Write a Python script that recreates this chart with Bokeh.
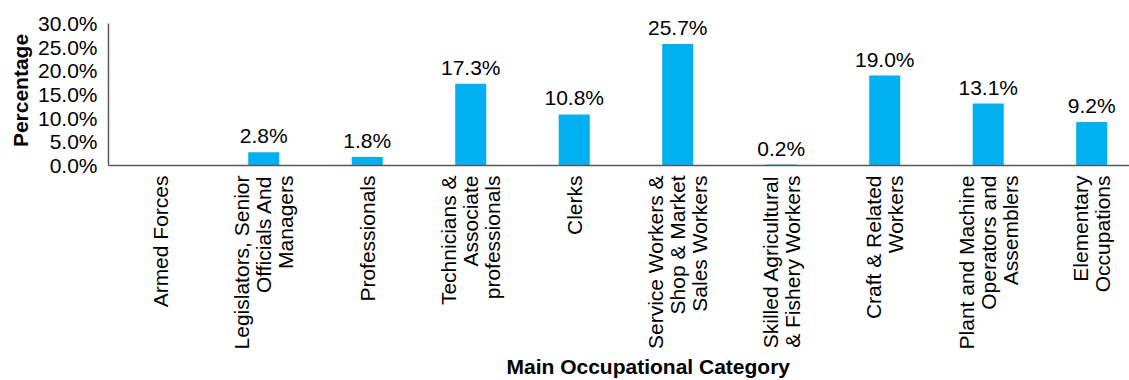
from bokeh.plotting import figure
from bokeh.models import ColumnDataSource, FixedTicker, PrintfTickFormatter, Range1d, LabelSet, Title
from bokeh.core.properties import value
from bokeh.embed import file_html
from bokeh.resources import INLINE
import math

categories = ["Armed Forces", "Legislators, Senior\nOfficials And\nManagers", "Professionals",
              "Technicians &\nAssociate\nprofessionals", "Clerks",
              "Service Workers &\nShop & Market\nSales Workers",
              "Skilled Agricultural\n& Fishery Workers", "Craft & Related\nWorkers",
              "Plant and Machine\nOperators and\nAssemblers", "Elementary\nOccupations"]
values = [0.0, 2.8, 1.8, 17.3, 10.8, 25.7, 0.2, 19.0, 13.1, 9.2]
y_ticks = [0, 5, 10, 15, 20, 25, 30]
x_title = "Main Occupational Category"
y_title = "Percentage"

FONT = "Liberation Sans"
BLUE = "#00B0F0"

xs = list(range(len(categories)))
src = ColumnDataSource(dict(x=xs, top=values,
                            lab=[("%.1f%%" % v) if v > 0 else "" for v in values]))

p = figure(width=1129, height=380, output_backend="svg", toolbar_location=None,
           x_range=Range1d(-0.5, 9.365), y_range=Range1d(0, 31.7),
           min_border_top=15, min_border_left=108, min_border_right=0, min_border_bottom=215)
p.outline_line_color = None
p.xgrid.visible = False
p.ygrid.visible = False

p.vbar(x="x", top="top", width=0.30, source=src, fill_color=BLUE, line_color=None)

labels = LabelSet(x="x", y="top", text="lab", source=src, text_align="center",
                  text_baseline="alphabetic", y_offset=9, text_font=value(FONT),
                  text_font_size="21px", text_color="#000000")
p.add_layout(labels)

p.add_layout(Title(text=x_title, align="left", offset=398, standoff=0,
                   text_font=FONT, text_font_size="21px", text_font_style="bold",
                   text_color="#000000"), "below")

p.xaxis.ticker = FixedTicker(ticks=xs)
p.xaxis.major_label_overrides = {i: c for i, c in enumerate(categories)}
p.xaxis.major_label_orientation = math.pi / 2
p.xaxis.major_label_text_align = "right"
p.xaxis.major_label_text_line_height = 0.95
p.xaxis.major_tick_line_color = None
p.xaxis.minor_tick_line_color = None
p.xaxis.major_label_standoff = 4

p.yaxis.ticker = FixedTicker(ticks=y_ticks)
p.yaxis.bounds = (0, 30)
p.yaxis.formatter = PrintfTickFormatter(format="%.1f%%")
p.yaxis.major_tick_line_color = None
p.yaxis.minor_tick_line_color = None
p.yaxis.major_label_standoff = 5
p.yaxis.axis_label = y_title
p.yaxis.axis_label_standoff = 3

for ax in (p.xaxis, p.yaxis):
    ax.axis_line_color = "#595959"
    ax.axis_line_width = 1.5
    ax.major_label_text_font = FONT
    ax.major_label_text_font_size = "21px"
    ax.major_label_text_color = "#000000"
    ax.axis_label_text_font = FONT
    ax.axis_label_text_font_size = "21px"
    ax.axis_label_text_font_style = "bold"
    ax.axis_label_text_color = "#000000"

open("out.html", "w").write(file_html(p, INLINE))
